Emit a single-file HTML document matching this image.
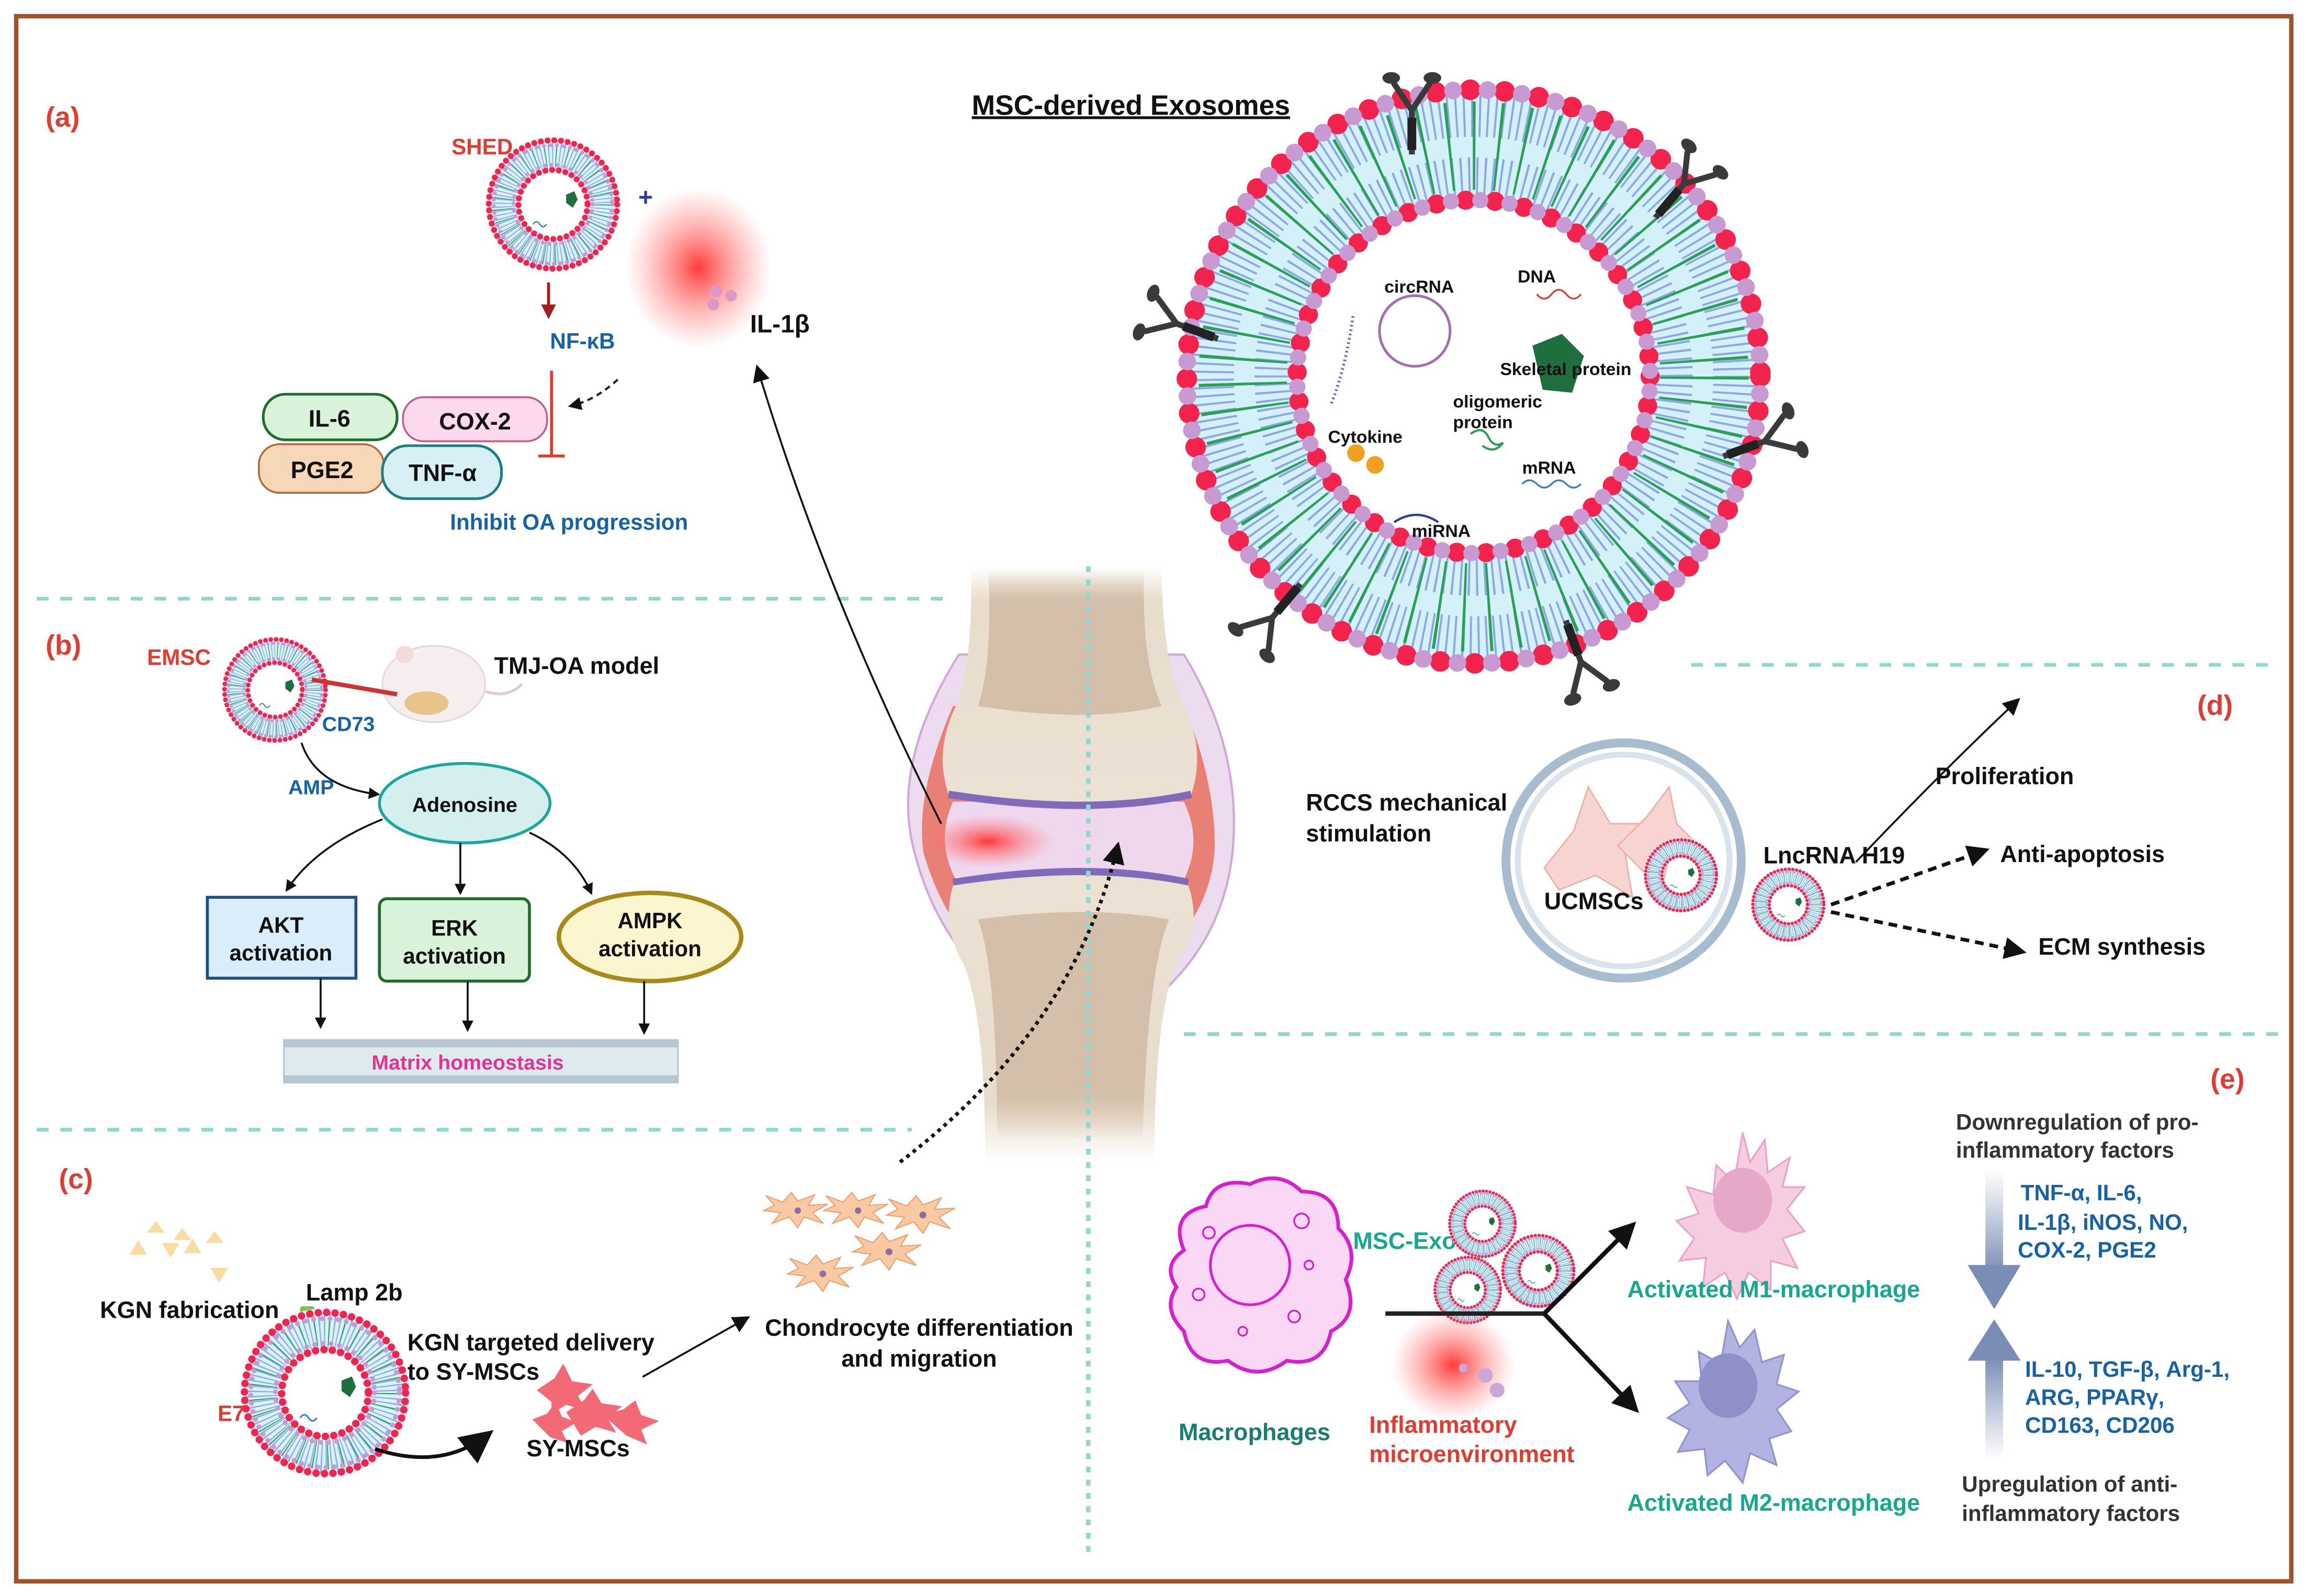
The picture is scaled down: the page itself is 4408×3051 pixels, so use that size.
<!DOCTYPE html>
<html><head><meta charset="utf-8"><style>
html,body{margin:0;padding:0;background:#fff}
svg{display:block}
text{font-family:"Liberation Sans Narrow","Liberation Sans",Arial,sans-serif;font-weight:bold}
</style></head><body>
<svg width="4408" height="3051" viewBox="0 0 1568 1085" preserveAspectRatio="none" xmlns="http://www.w3.org/2000/svg">
<defs>
<radialGradient id="red" cx="50%" cy="50%" r="50%"><stop offset="0" stop-color="#ff3030" stop-opacity="0.95"/><stop offset="0.5" stop-color="#ff6060" stop-opacity="0.5"/><stop offset="1" stop-color="#ff8080" stop-opacity="0"/></radialGradient>
<linearGradient id="bone" x1="0" y1="0" x2="0" y2="1"><stop offset="0" stop-color="#e8dccb" stop-opacity="0"/><stop offset="0.15" stop-color="#e8dccb"/><stop offset="1" stop-color="#ece2d4"/></linearGradient>
<linearGradient id="bone2" x1="0" y1="0" x2="0" y2="1"><stop offset="0" stop-color="#ece2d4"/><stop offset="0.8" stop-color="#e8dccb"/><stop offset="1" stop-color="#e8dccb" stop-opacity="0"/></linearGradient>
<linearGradient id="marrow" x1="0" y1="0" x2="0" y2="1"><stop offset="0" stop-color="#d4c0aa" stop-opacity="0"/><stop offset="0.2" stop-color="#d4c0aa"/><stop offset="1" stop-color="#d4c0aa"/></linearGradient>
<linearGradient id="marrow2" x1="0" y1="0" x2="0" y2="1"><stop offset="0" stop-color="#d4c0aa"/><stop offset="0.8" stop-color="#d4c0aa"/><stop offset="1" stop-color="#d4c0aa" stop-opacity="0"/></linearGradient>
<linearGradient id="arrDown" x1="0" y1="0" x2="0" y2="1"><stop offset="0" stop-color="#8a9bbd" stop-opacity="0"/><stop offset="1" stop-color="#7a8db5"/></linearGradient>
<linearGradient id="arrUp" x1="0" y1="1" x2="0" y2="0"><stop offset="0" stop-color="#8a9bbd" stop-opacity="0"/><stop offset="1" stop-color="#7a8db5"/></linearGradient>
<marker id="ah" viewBox="0 0 10 10" refX="8" refY="5" markerWidth="6" markerHeight="6" orient="auto"><path d="M0,0L10,5L0,10z" fill="#111"/></marker>
<marker id="ahs" viewBox="0 0 10 10" refX="8" refY="5" markerWidth="9" markerHeight="9" orient="auto"><path d="M0,0L10,5L0,10z" fill="#111"/></marker>
<marker id="ahr" viewBox="0 0 10 10" refX="8" refY="5" markerWidth="5" markerHeight="5" orient="auto"><path d="M0,0L10,5L0,10z" fill="#a31d1d"/></marker>
<symbol id="ves" viewBox="-42 -42 84 84">
<circle r="30" fill="none" stroke="#d8f3f8" stroke-width="22"/>
<circle r="30" fill="none" stroke="#8fa8e8" stroke-width="18" stroke-dasharray="0.6 1.6"/>
<circle r="30" fill="none" stroke="#2aa055" stroke-width="14" stroke-dasharray="0.5 6"/>
<circle r="39" fill="none" stroke="#f2244d" stroke-width="3.6" stroke-dasharray="0 4.1" stroke-linecap="round"/>
<circle r="36" fill="none" stroke="#c89ad2" stroke-width="2.4" stroke-dasharray="0 4" stroke-linecap="round"/>
<circle r="21" fill="none" stroke="#f2244d" stroke-width="3.6" stroke-dasharray="0 4.1" stroke-linecap="round"/>
<circle r="24" fill="none" stroke="#c89ad2" stroke-width="2.4" stroke-dasharray="0 4" stroke-linecap="round"/>
<path d="M8,-6 l5,-2 l2,5 l-3,5 l-4,-3z" fill="#1e6e3e"/>
<path d="M-12,12 q2,-3 4,0 t4,0" stroke="#3a7fc0" stroke-width="0.8" fill="none"/>
</symbol>
<symbol id="chond" viewBox="-40 -20 80 40">
<path d="M-30,0 L-20,-5 -28,-14 -12,-8 -4,-17 2,-9 18,-15 12,-5 30,-6 16,2 26,12 8,6 2,16 -6,6 -22,12 -14,2z" fill="#f8c9a2" stroke="#eba06e" stroke-width="1"/>
<circle cx="2" cy="0" r="3" fill="#8a6fa0"/>
</symbol>
<symbol id="ab" viewBox="-20 -30 40 60">
<path d="M0,30 L0,0 M0,0 L-12,-18 M0,0 L12,-18" stroke="#3a3a3a" stroke-width="4" fill="none" stroke-linecap="round"/>
<ellipse cx="-14" cy="-22" rx="6" ry="4" fill="#3a3a3a"/><ellipse cx="14" cy="-22" rx="6" ry="4" fill="#3a3a3a"/>
<rect x="-3" y="5" width="6" height="22" fill="#222"/>
</symbol>
</defs>

<rect x="0" y="0" width="1568" height="1085" fill="#fff"/>
<rect x="11" y="11" width="1547" height="1064" fill="none" stroke="#a0522d" stroke-width="3"/>

<g stroke="#8fd8d2" stroke-width="2.5" stroke-dasharray="8 8" fill="none">
<line x1="25" y1="407" x2="645" y2="407"/>
<line x1="25" y1="768" x2="620" y2="768"/>
<line x1="1150" y1="452" x2="1550" y2="452"/>
<line x1="805" y1="703" x2="1550" y2="703"/>
</g>

<!-- JOINT -->
<g>
<path d="M652,445 Q605,520 622,580 Q640,650 700,690 L770,690 Q830,650 838,580 Q845,510 805,445 Z" fill="#eddcf0" stroke="#d2a8d8" stroke-width="1.5"/>
<path d="M648,480 Q622,540 628,580 Q640,620 660,640 L800,640 Q825,610 826,575 Q826,530 805,480 Z" fill="#e98075"/>
<path d="M648,545 Q636,572 650,598 L805,598 Q818,572 805,545 Z" fill="#efd7ee"/>
<ellipse cx="672" cy="572" rx="45" ry="18" fill="url(#red)"/>
<path d="M660,385 L790,385 Q790,450 805,480 Q820,510 810,540 Q740,555 645,540 Q635,510 650,480 Q662,450 660,385Z" fill="url(#bone)"/>
<path d="M672,388 L778,388 Q776,450 790,480 Q740,492 665,480 Q675,450 672,388Z" fill="url(#marrow)"/>
<path d="M645,540 Q740,555 810,540" stroke="#7f6bb8" stroke-width="5" fill="none"/>
<path d="M648,600 Q740,585 808,600" stroke="#7f6bb8" stroke-width="5" fill="none"/>
<path d="M648,602 Q740,588 808,602 Q818,630 800,655 Q785,690 785,790 L670,790 Q670,690 655,655 Q640,630 648,602Z" fill="url(#bone2)"/>
<path d="M665,625 Q740,615 795,625 Q780,660 777,775 L678,775 Q678,660 665,625Z" fill="url(#marrow2)"/>
</g>
<line x1="740" y1="385" x2="740" y2="1055" stroke="#8fd8d2" stroke-width="3" stroke-dasharray="4 5"/>
<path d="M640,560 Q560,400 515,250" stroke="#111" stroke-width="1.3" fill="none" marker-end="url(#ahs)"/>
<path d="M612,790 Q730,700 760,575" stroke="#111" stroke-width="2.5" stroke-dasharray="2.5 3" fill="none" marker-end="url(#ah)"/>

<!-- PANEL A -->
<text x="31" y="86" font-size="19" fill="#e03c31">(a)</text>
<use href="#ves" x="329" y="92" width="94" height="94"/>
<text x="307" y="105" font-size="15" fill="#e03c31">SHED</text>
<text x="434" y="140" font-size="17" fill="#2b3aa0">+</text>
<ellipse cx="475" cy="182" rx="50" ry="55" fill="url(#red)"/>
<circle cx="487" cy="198" r="4" fill="#d99bc5"/><circle cx="497" cy="201" r="4" fill="#d99bc5"/><circle cx="485" cy="207" r="4" fill="#d99bc5"/>
<text x="510" y="226" font-size="17" fill="#111">IL-1β</text>
<line x1="373" y1="192" x2="373" y2="215" stroke="#a31d1d" stroke-width="2" marker-end="url(#ahr)"/>
<text x="374" y="237" font-size="15" fill="#1762a6">NF-κB</text>
<path d="M375,252 L375,310 M366,310 L384,310" stroke="#e03c31" stroke-width="2" fill="none"/>
<path d="M420,258 Q405,272 388,276" stroke="#222" stroke-width="1.5" stroke-dasharray="4 3" fill="none" marker-end="url(#ah)"/>
<rect x="179" y="268" width="91" height="31" rx="15" fill="#d9f2da" stroke="#1e6e2a" stroke-width="1.8"/>
<text x="224" y="290" font-size="16" text-anchor="middle" fill="#111">IL-6</text>
<rect x="274" y="270" width="98" height="30" rx="14" fill="#fdd9ee" stroke="#c06090" stroke-width="1.3"/>
<text x="323" y="292" font-size="16" text-anchor="middle" fill="#111">COX-2</text>
<rect x="176" y="302" width="85" height="33" rx="14" fill="#f6d8b8" stroke="#b46a3c" stroke-width="1.3"/>
<text x="219" y="325" font-size="16" text-anchor="middle" fill="#111">PGE2</text>
<rect x="260" y="303" width="81" height="36" rx="17" fill="#d6f0f6" stroke="#1d7e86" stroke-width="1.8"/>
<text x="301" y="327" font-size="16" text-anchor="middle" fill="#111">TNF-α</text>
<text x="306" y="360" font-size="15" fill="#1762a6">Inhibit OA progression</text>

<!-- BIG EXOSOME -->
<text x="769" y="78" font-size="19" text-anchor="middle" fill="#111" text-decoration="underline">MSC-derived Exosomes</text>
<g transform="translate(1002,256)">
<circle r="157" fill="none" stroke="#d4f1f9" stroke-width="76"/>
<circle r="178" fill="none" stroke="#8ea6e6" stroke-width="30" stroke-dasharray="1.4 4"/>
<circle r="136" fill="none" stroke="#8ea6e6" stroke-width="26" stroke-dasharray="1.4 4"/>
<circle r="157" fill="none" stroke="#2aa055" stroke-width="60" stroke-dasharray="1.8 15"/>
<circle r="195" fill="none" stroke="#f2244d" stroke-width="14" stroke-dasharray="0 23.5" stroke-linecap="round"/>
<circle r="195" fill="none" stroke="#c89ad2" stroke-width="12" stroke-dasharray="0 23.5" stroke-dashoffset="11.7" stroke-linecap="round"/>
<circle r="120" fill="none" stroke="#f2244d" stroke-width="13" stroke-dasharray="0 20" stroke-linecap="round"/>
<circle r="120" fill="none" stroke="#c89ad2" stroke-width="11" stroke-dasharray="0 20" stroke-dashoffset="10" stroke-linecap="round"/>
<circle r="107" fill="#fff"/>
</g>
<use href="#ab" x="940" y="45" width="40" height="60"/>
<use href="#ab" x="1125" y="95" width="40" height="60" transform="rotate(40 1145 125)"/>
<use href="#ab" x="780" y="190" width="40" height="60" transform="rotate(-70 800 220)"/>
<use href="#ab" x="1180" y="270" width="40" height="60" transform="rotate(70 1200 300)"/>
<use href="#ab" x="845" y="390" width="40" height="60" transform="rotate(-140 865 420)"/>
<use href="#ab" x="1055" y="420" width="40" height="60" transform="rotate(160 1075 450)"/>
<circle cx="962" cy="225" r="24" fill="none" stroke="#a070b0" stroke-width="1.8"/>
<text x="965" y="199" font-size="12" text-anchor="middle" fill="#111">circRNA</text>
<text x="1032" y="192" font-size="12" fill="#111">DNA</text>
<path d="M1045,200 q5,6 10,0 t10,0 t10,0" stroke="#e03c31" fill="none" stroke-width="1.2"/>
<path d="M1042,235 l20,-8 l15,15 l-8,25 l-20,-2 z" fill="#1e6e3e"/>
<text x="1020" y="255" font-size="12" fill="#111">Skeletal protein</text>
<path d="M920,215 Q915,250 905,275" stroke="#7a4aa0" stroke-width="2" stroke-dasharray="1 2" fill="none"/>
<text x="988" y="277" font-size="12" fill="#111">oligomeric</text>
<text x="988" y="291" font-size="12" fill="#111">protein</text>
<path d="M1000,295 q8,-6 12,2 t10,4 q-6,8 -14,2" stroke="#2aa055" fill="none" stroke-width="1.5"/>
<text x="903" y="301" font-size="12" fill="#111">Cytokine</text>
<circle cx="922" cy="308" r="6" fill="#f0a020"/><circle cx="935" cy="316" r="6" fill="#f0a020"/>
<text x="1035" y="322" font-size="12" fill="#111">mRNA</text>
<path d="M1035,329 q5,-5 10,0 t10,0 t10,0 t10,0" stroke="#3a7fc0" fill="none" stroke-width="1.2"/>
<text x="960" y="365" font-size="12" fill="#111">miRNA</text>
<path d="M948,355 q15,-10 30,0" stroke="#2b3aa0" fill="none" stroke-width="1.5"/>

<!-- PANEL B -->
<text x="31" y="445" font-size="19" fill="#e03c31">(b)</text>
<text x="100" y="452" font-size="15" fill="#e03c31">EMSC</text>
<ellipse cx="295" cy="465" rx="35" ry="26" fill="#f6eeee" stroke="#e3d6d6"/>
<ellipse cx="290" cy="478" rx="15" ry="8" fill="#e8c48a"/>
<circle cx="275" cy="445" r="6" fill="#f4dada"/>
<path d="M330,470 q15,5 25,-5" stroke="#e3cccc" stroke-width="2" fill="none"/>
<use href="#ves" x="150" y="432" width="74" height="74"/>
<line x1="212" y1="462" x2="270" y2="472" stroke="#c33" stroke-width="3"/>
<text x="336" y="458" font-size="16" fill="#111">TMJ-OA model</text>
<text x="219" y="497" font-size="14" fill="#1762a6">CD73</text>
<text x="196" y="540" font-size="14" fill="#1762a6">AMP</text>
<path d="M205,505 Q215,535 257,540" stroke="#111" stroke-width="1.3" fill="none" marker-end="url(#ah)"/>
<ellipse cx="316" cy="546" rx="58" ry="27" fill="#d4efee" stroke="#1aa79d" stroke-width="2"/>
<text x="316" y="552" font-size="14" text-anchor="middle" fill="#111">Adenosine</text>
<path d="M260,557 Q215,575 195,605" stroke="#111" stroke-width="1.3" fill="none" marker-end="url(#ah)"/>
<line x1="313" y1="573" x2="313" y2="607" stroke="#111" stroke-width="1.3" marker-end="url(#ah)"/>
<path d="M360,566 Q390,580 402,607" stroke="#111" stroke-width="1.3" fill="none" marker-end="url(#ah)"/>
<rect x="141" y="610" width="101" height="55" fill="#d9eefa" stroke="#1d4e86" stroke-width="2"/>
<text x="191" y="634" font-size="15" text-anchor="middle" fill="#111">AKT</text>
<text x="191" y="653" font-size="15" text-anchor="middle" fill="#111">activation</text>
<rect x="258" y="611" width="102" height="56" rx="5" fill="#d9f2da" stroke="#1e6e2a" stroke-width="2"/>
<text x="309" y="636" font-size="15" text-anchor="middle" fill="#111">ERK</text>
<text x="309" y="655" font-size="15" text-anchor="middle" fill="#111">activation</text>
<ellipse cx="442" cy="637" rx="62" ry="30" fill="#fbf6cf" stroke="#a88a1a" stroke-width="3"/>
<text x="442" y="631" font-size="15" text-anchor="middle" fill="#111">AMPK</text>
<text x="442" y="650" font-size="15" text-anchor="middle" fill="#111">activation</text>
<line x1="218" y1="665" x2="218" y2="698" stroke="#111" stroke-width="1.3" marker-end="url(#ah)"/>
<line x1="318" y1="667" x2="318" y2="700" stroke="#111" stroke-width="1.3" marker-end="url(#ah)"/>
<line x1="438" y1="667" x2="438" y2="702" stroke="#111" stroke-width="1.3" marker-end="url(#ah)"/>
<rect x="193" y="707" width="268" height="29" fill="#dfeaf0" stroke="#b0c2cc"/>
<rect x="193" y="707" width="268" height="5" fill="#b7c8d3"/>
<rect x="193" y="731" width="268" height="5" fill="#b7c8d3"/>
<text x="318" y="727" font-size="14" text-anchor="middle" fill="#e0358f">Matrix homeostasis</text>

<!-- PANEL C -->
<text x="40" y="808" font-size="19" fill="#e03c31">(c)</text>
<g fill="#f9dda0"><path d="M88,853 l6,-10 l6,10z"/><path d="M100,838 l6,-8 l6,8z"/><path d="M110,845 l6,10 l6,-10z"/><path d="M125,852 l6,-10 l6,10z"/><path d="M140,845 l6,-8 l6,8z"/><path d="M143,862 l6,10 l6,-10z"/><path d="M118,843 l6,-8 l6,8z"/></g>
<text x="68" y="896" font-size="16" fill="#111">KGN fabrication</text>
<text x="208" y="884" font-size="16" fill="#111">Lamp 2b</text>
<rect x="204" y="888" width="10" height="22" fill="#7ec04a" rx="2"/>
<use href="#ves" x="162" y="888" width="118" height="118"/>
<text x="148" y="966" font-size="15" fill="#e03c31">E7</text>
<text x="277" y="918" font-size="16" fill="#111">KGN targeted delivery</text>
<text x="277" y="938" font-size="16" fill="#111">to SY-MSCs</text>
<path d="M255,985 Q300,1000 332,975" stroke="#111" stroke-width="2.5" fill="none" marker-end="url(#ahs)"/>
<g fill="#f05a68" opacity="0.9"><path d="M365,945 l12,-8 l6,-10 l6,12 l14,2 l-10,8 l6,10 l-14,-4 l-10,6 l0,-8z"/><path d="M385,960 l12,-8 l6,-8 l6,10 l14,2 l-10,8 l6,10 l-14,-4 l-10,6z"/><path d="M410,962 l14,-4 l8,-6 l4,10 l12,4 l-12,6 l4,10 l-14,-6z"/><path d="M362,965 l10,-4 l6,-8 l4,10 l10,4 l-10,6 l4,8 l-12,-4z"/></g>
<text x="358" y="990" font-size="16" fill="#111">SY-MSCs</text>
<line x1="437" y1="936" x2="508" y2="896" stroke="#111" stroke-width="1.3" marker-end="url(#ahs)"/>
<use href="#chond" x="512" y="808" width="58" height="30"/>
<use href="#chond" x="553" y="808" width="58" height="30"/>
<use href="#chond" x="595" y="810" width="62" height="32"/>
<use href="#chond" x="572" y="835" width="62" height="32"/>
<use href="#chond" x="528" y="851" width="60" height="30"/>
<text x="625" y="908" font-size="16" text-anchor="middle" fill="#111">Chondrocyte differentiation</text>
<text x="625" y="929" font-size="16" text-anchor="middle" fill="#111">and migration</text>

<!-- PANEL D -->
<text x="1494" y="486" font-size="19" fill="#e03c31">(d)</text>
<text x="888" y="551" font-size="16" fill="#111">RCCS mechanical</text>
<text x="888" y="572" font-size="16" fill="#111">stimulation</text>
<circle cx="1104" cy="585" r="80" fill="#fff" stroke="#a8bcd0" stroke-width="6"/>
<circle cx="1104" cy="585" r="72" fill="#fff" stroke="#d8e3ec" stroke-width="4"/>
<g fill="#f8d4d0" stroke="#ecb0aa"><path d="M1050,590 l20,-25 l10,-30 l15,25 l30,0 l-20,20 l5,30 l-25,-15 l-25,10z"/><path d="M1100,575 l20,-20 l15,-20 l5,25 l15,15 l-20,5 l-5,25 l-15,-15z"/></g>
<text x="1050" y="618" font-size="16" fill="#111">UCMSCs</text>
<use href="#ves" x="1117" y="569" width="52" height="52"/>
<use href="#ves" x="1190" y="589" width="52" height="52"/>
<text x="1199" y="587" font-size="16" fill="#111">LncRNA H19</text>
<path d="M1262,586 Q1320,525 1372,476" stroke="#111" stroke-width="1.3" fill="none" marker-end="url(#ahs)"/>
<text x="1316" y="533" font-size="16" fill="#111">Proliferation</text>
<line x1="1245" y1="615" x2="1350" y2="578" stroke="#111" stroke-width="2.5" stroke-dasharray="6 4" marker-end="url(#ah)"/>
<text x="1360" y="586" font-size="16" fill="#111">Anti-apoptosis</text>
<line x1="1245" y1="620" x2="1375" y2="647" stroke="#111" stroke-width="2.5" stroke-dasharray="6 4" marker-end="url(#ah)"/>
<text x="1386" y="649" font-size="16" fill="#111">ECM synthesis</text>

<!-- PANEL E -->
<text x="1503" y="740" font-size="19" fill="#e03c31">(e)</text>
<path d="M805,850 q-10,-25 15,-30 q5,-20 30,-15 q20,-10 35,5 q25,0 25,25 q15,15 5,35 q10,25 -10,35 q-5,25 -30,20 q-20,15 -40,0 q-25,5 -30,-20 q-15,-15 -5,-30 q-10,-15 5,-25z" fill="#fad8f5" stroke="#d620d0" stroke-width="2.5"/>
<circle cx="850" cy="860" r="27" fill="none" stroke="#d620d0" stroke-width="1.8"/>
<g fill="none" stroke="#d620d0" stroke-width="1.2"><circle cx="822" cy="838" r="4"/><circle cx="885" cy="830" r="5"/><circle cx="815" cy="880" r="4"/><circle cx="880" cy="895" r="4"/><circle cx="845" cy="905" r="3"/><circle cx="890" cy="860" r="3"/></g>
<text x="853" y="979" font-size="16" text-anchor="middle" fill="#1a7d72">Macrophages</text>
<text x="920" y="849" font-size="16" fill="#17a88f">MSC-Exos</text>
<use href="#ves" x="984" y="808" width="48" height="48"/>
<use href="#ves" x="1020" y="838" width="52" height="52"/>
<use href="#ves" x="974" y="853" width="48" height="48"/>
<ellipse cx="988" cy="928" rx="42" ry="38" fill="url(#red)"/>
<circle cx="1010" cy="935" r="5" fill="#c9a8d8"/><circle cx="1018" cy="945" r="5" fill="#c9a8d8"/><circle cx="995" cy="930" r="3" fill="#c9a8d8"/>
<text x="931" y="974" font-size="16" fill="#e03c31">Inflammatory</text>
<text x="931" y="994" font-size="16" fill="#e03c31">microenvironment</text>
<line x1="942" y1="893" x2="1050" y2="893" stroke="#222" stroke-width="3"/>
<line x1="1050" y1="893" x2="1110" y2="833" stroke="#111" stroke-width="3" marker-end="url(#ah)"/>
<line x1="1050" y1="893" x2="1112" y2="958" stroke="#111" stroke-width="3" marker-end="url(#ah)"/>
<path d="M1185,770 l5,20 l10,-15 l2,22 l15,-10 l-5,20 l15,0 l-12,15 l12,15 l-15,5 l10,20 l-18,-5 l0,20 l-15,-12 l-8,18 l-8,-18 l-15,10 l2,-20 l-18,2 l10,-15 l-12,-12 l15,-5 l-8,-18 l18,5 l2,-20 l12,12z" fill="#f6cde0" stroke="#e8a5c8" stroke-width="1.2"/>
<ellipse cx="1185" cy="816" rx="20" ry="22" fill="#e6a8c8"/>
<text x="1206" y="882" font-size="16" text-anchor="middle" fill="#17a88f">Activated M1-macrophage</text>
<path d="M1175,898 l8,18 l10,-12 l5,22 l15,-5 l-5,20 l15,5 l-15,12 l10,15 l-15,5 l5,18 l-18,-8 l-5,20 l-12,-15 l-12,10 l-2,-18 l-18,2 l8,-15 l-15,-8 l15,-10 l-10,-15 l18,0 l-2,-20 l15,8z" fill="#b3b3e3" stroke="#9494cc" stroke-width="1.2"/>
<ellipse cx="1175" cy="942" rx="20" ry="22" fill="#9090c8"/>
<text x="1206" y="1027" font-size="16" text-anchor="middle" fill="#17a88f">Activated M2-macrophage</text>
<text x="1330" y="768" font-size="15" fill="#333">Downregulation of pro-</text>
<text x="1330" y="787" font-size="15" fill="#333">inflammatory factors</text>
<rect x="1350" y="795" width="12" height="70" fill="url(#arrDown)"/>
<path d="M1338,860 L1374,860 L1356,890 Z" fill="#7a8db5"/>
<text x="1374" y="816" font-size="15" fill="#1762a6">TNF-α, IL-6,</text>
<text x="1372" y="836" font-size="15" fill="#1762a6">IL-1β, iNOS, NO,</text>
<text x="1372" y="855" font-size="15" fill="#1762a6">COX-2, PGE2</text>
<path d="M1338,925 L1374,925 L1356,897 Z" fill="#7a8db5"/>
<rect x="1350" y="923" width="12" height="70" fill="url(#arrUp)"/>
<text x="1377" y="936" font-size="15" fill="#1762a6">IL-10, TGF-β, Arg-1,</text>
<text x="1377" y="955" font-size="15" fill="#1762a6">ARG, PPARγ,</text>
<text x="1377" y="974" font-size="15" fill="#1762a6">CD163, CD206</text>
<text x="1334" y="1014" font-size="15" fill="#333">Upregulation of anti-</text>
<text x="1334" y="1034" font-size="15" fill="#333">inflammatory factors</text>
</svg>
</body></html>
